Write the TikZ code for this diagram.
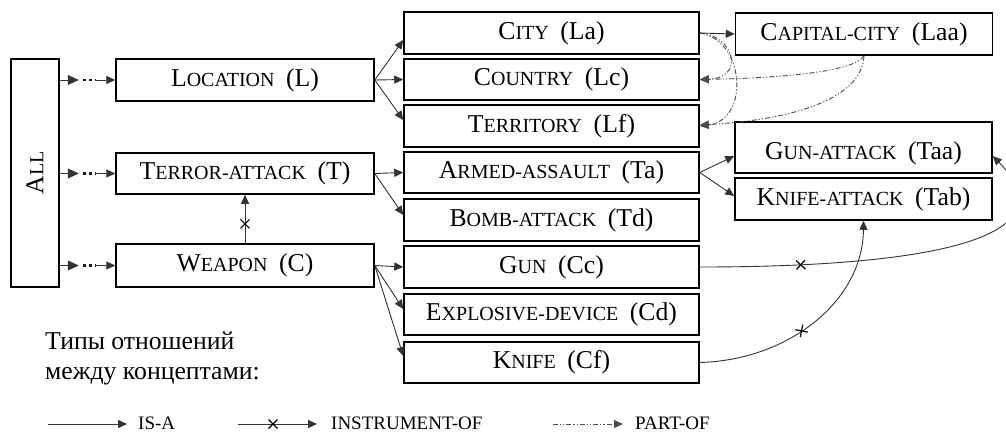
\documentclass[tikz,border=0pt]{standalone}
\usepackage{fontspec}
\setmainfont{Liberation Serif}
\usetikzlibrary{arrows.meta,calc,decorations.markings}

\newcommand\bigsz{\fontsize{25.7pt}{30pt}\selectfont}
\newcommand\smsz{\fontsize{20pt}{24pt}\selectfont}
\newcommand\keysz{\fontsize{19pt}{23pt}\selectfont}
% capital letter followed by reduced capitals
\newcommand\fsc[2]{#1{\smsz #2}}
\newcommand\gap{\hspace{0.45em}}

\begin{document}
\begin{tikzpicture}[x=1pt,y=-1pt,
  box/.style={draw=black, line width=1.5pt, inner sep=0pt, font=\bigsz},
  lbl/.style={font=\bigsz, inner sep=0pt},
  conn/.style={draw=black!80, line width=0.9pt},
  isa/.style={conn, -{Triangle[length=9pt,width=8pt]}},
  bigtip/.style={conn, -{Triangle[length=11pt,width=10pt]}},
  inst/.style={isa, decoration={markings, mark=at position #1 with {\draw[-, black, line width=1.2pt] (-4.5pt,-4.5pt)--(4.5pt,4.5pt) (-4.5pt,4.5pt)--(4.5pt,-4.5pt);}}, postaction=decorate},
  partof/.style={draw=black!70, line width=0.9pt, dash pattern=on 5pt off 2pt on 1.2pt off 2pt on 1.2pt off 2pt, -{Triangle[length=9pt,width=8pt]}},
  dotrow/.style={draw=black!90, line width=2.8pt, dash pattern=on 2.8pt off 3.2pt},
  legend/.style={font=\keysz, inner sep=0pt, anchor=base west},
]
\useasboundingbox (0,0) rectangle (1006,432);

% root
\node[box, minimum width=48pt, minimum height=228pt] (all) at (35,173) {};
\node[lbl, rotate=90] (alltxt) at (all.center) {\fsc{A}{LL}};

% first level
\node[box, minimum width=258pt, minimum height=42pt] (loc) at (245,80) {\fsc{L}{OCATION}\gap(L)};
\node[box, minimum width=258pt, minimum height=41pt] (ta) at (245,173.5) {\fsc{T}{ERROR-ATTACK}\gap(T)};
\node[box, minimum width=258pt, minimum height=43pt] (weapon) at (245,265.5) {\fsc{W}{EAPON}\gap(C)};

% second level
\node[box, minimum width=295pt, minimum height=42pt] (city) at (551.5,33) {\fsc{C}{ITY}\gap(La)};
\node[box, minimum width=295pt, minimum height=41pt] (country) at (551.5,79.5) {\fsc{C}{OUNTRY}\gap(Lc)};
\node[box, minimum width=295pt, minimum height=42pt] (terr) at (551.5,126) {\fsc{T}{ERRITORY}\gap(Lf)};
\node[box, minimum width=295pt, minimum height=41pt] (armed) at (551.5,172.5) {\fsc{A}{RMED-ASSAULT}\gap(Ta)};
\node[box, minimum width=295pt, minimum height=42pt] (bomb) at (551.5,220) {\fsc{B}{OMB-ATTACK}\gap(Td)};
\node[box, minimum width=295pt, minimum height=42pt] (gun) at (551.5,267) {\fsc{G}{UN}\gap(Cc)};
\node[box, minimum width=295pt, minimum height=41pt] (expl) at (551.5,314.5) {\fsc{E}{XPLOSIVE-DEVICE}\gap(Cd)};
\node[box, minimum width=295pt, minimum height=41pt] (knife) at (551.5,362.5) {\fsc{K}{NIFE}\gap(Cf)};

% third level
\node[box, minimum width=257pt, minimum height=42pt] (cap) at (864,34) {\fsc{C}{APITAL-CITY}\gap(Laa)};
\node[box, minimum width=257pt, minimum height=51pt] (gaa) at (863.5,147.5) {};
\node[lbl] (gaatxt) at (863.5,153) {\fsc{G}{UN-ATTACK}\gap(Taa)};
\node[box, minimum width=257pt, minimum height=42pt] (kaa) at (863.5,199) {\fsc{K}{NIFE-ATTACK}\gap(Tab)};

% links from the root
\foreach \n in {loc,ta,weapon} {
  \coordinate (\n-s) at (all.east |- \n.west);
  \coordinate (\n-d) at ($(\n-s)+(23,0)$);
  \coordinate (\n-e) at ($(\n.west)+(-20,0)$);
  \draw[bigtip] (\n-s) -- ++(19,0);
  \draw[dotrow] (\n-d) -- (\n-e);
  \draw[isa] (\n-e) -- (\n.west);
}

% is-a
\draw[isa] (loc.east) -- ([yshift=-7pt]city.west);
\draw[isa] (loc.east) -- (country.west);
\draw[isa] (loc.east) -- ([yshift=6pt]terr.west);
\draw[isa] (ta.east) -- (armed.west);
\draw[isa] (ta.east) -- ([yshift=5pt]bomb.west);
\draw[isa] (weapon.east) -- (gun.west);
\draw[isa] (weapon.east) -- ([yshift=5.5pt]expl.west);
\draw[isa] (weapon.east) -- ([yshift=6.5pt]knife.west);
\draw[isa] (armed.east) -- ([yshift=-8.5pt]gaa.west);
\draw[isa] (armed.east) -- ([yshift=3pt]kaa.west);
\draw[isa] (city.east) -- (cap.west);

% instrument-of
\draw[inst=0.4] (weapon.north) -- (ta.south);
\draw[inst=101pt] (gun.east) .. controls (900,267) and (1080,245) .. ([yshift=-8.5pt]gaa.east);
\draw[inst=108pt] (knife.east) .. controls (790,360) and (863,300) .. (kaa.south);

% part-of
\draw[partof] (city.east) .. controls (735,36) and (745,78) .. (country.east);
\draw[partof] (city.east) .. controls (745,40) and (750,120) .. (terr.east);
\draw[partof] (cap.south) .. controls (855,72) and (780,78) .. (country.east);
\draw[partof] (cap.south) .. controls (862,100) and (790,120) .. ([yshift=1pt]terr.east);

% legend
\node[lbl, anchor=base west] (lg1) at (45,349) {Типы отношений};
\node[lbl, anchor=base west] (lg2) at (45,379) {между концептами:};

\coordinate (k1a) at (48,424);
\coordinate (k1b) at (127,424);
\draw[isa] (k1a) -- (k1b);
\node[legend] (k1t) at (138,429) {IS-A};

\coordinate (k2a) at (238,424);
\coordinate (k2b) at (317,424);
\draw[inst=35pt] (k2a) -- (k2b);
\node[legend] (k2t) at (331,429) {INSTRUMENT-OF};

\coordinate (k3a) at (553,424);
\coordinate (k3b) at (623,424);
\draw[partof] (k3a) -- (k3b);
\node[legend] (k3t) at (635,429) {PART-OF};
\end{tikzpicture}
\end{document}
